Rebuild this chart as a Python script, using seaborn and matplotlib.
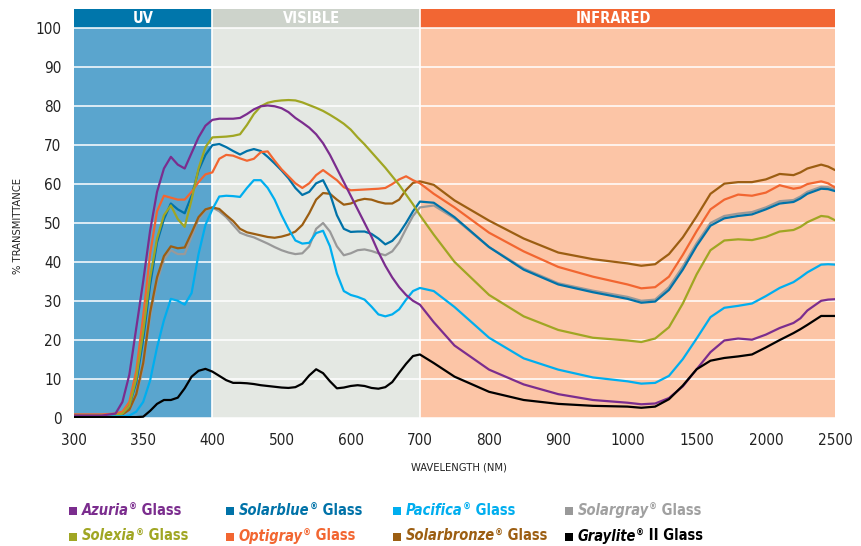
import numpy as np
import pandas as pd
import matplotlib
matplotlib.use("Agg")
import matplotlib.pyplot as plt
import seaborn as sns
from matplotlib import font_manager
from matplotlib.patches import Rectangle
from matplotlib.ticker import FixedLocator, FixedFormatter

# wavelengths (nm) sampled off the chart
wavelength = [300, 320, 330, 335, 340, 345, 350, 355, 360, 365, 370, 375, 380, 385, 390, 395, 400,
              410, 420, 430, 440, 450, 460, 470, 480, 490, 500, 510, 520, 530, 540, 550, 560, 570,
              580, 590, 600, 610, 620, 630, 640, 650, 660, 670, 680, 690, 700,
              720, 750, 800, 850, 900, 950, 1000, 1100, 1200, 1300, 1400, 1500, 1600, 1700, 1800,
              1900, 2000, 2100, 2200, 2250, 2300, 2400, 2450, 2500]

azuria = [0.5, 0.5, 1, 4, 11, 23, 35, 48, 58, 64, 67, 65, 64, 68, 72, 75, 76.5,
          76.8, 76.8, 76.8, 77, 78, 79.2, 80, 80.2, 80, 79.5, 78.5, 77, 75.8, 74.5, 72.8, 70.5, 67.5,
          64, 60.5, 57, 53.5, 50, 46.5, 42.5, 39, 36, 33.5, 31.5, 30, 29,
          24.5, 18.5, 12.3, 8.5, 6, 4.5, 3.8, 3.4, 3.6, 5, 8, 12.4, 16.8, 19.8, 20.3,
          20, 21.3, 23, 24.3, 25.5, 27.5, 30, 30.3, 30.4]
solarblue = [0.5, 0.5, 0.7, 1, 3, 9, 20, 34, 45, 51, 55, 53.5, 52.5, 57, 63.5, 67.5, 70,
             70.3, 69.5, 68.5, 67.6, 68.5, 69, 68.5, 67, 65.3, 63.5, 61.5, 59, 57.2, 58, 60.2, 61, 57.5,
             52, 48.5, 47.7, 47.8, 47.8, 47.2, 46, 44.5, 45.4, 47.3, 50, 53, 55.5,
             55.2, 51.5, 43.8, 38, 34.2, 32.2, 30.5, 29.5, 29.8, 32.8, 38, 44.1, 49.3, 51.2, 51.8,
             52.2, 53.5, 55, 55.4, 56.3, 57.5, 58.8, 58.7, 58.2]
pacifica = [0.3, 0.3, 0.3, 0.3, 0.5, 1.5, 4, 9.5, 18, 25, 30.5, 30, 29, 32, 42, 49.5, 53.5,
            56.8, 57, 56.9, 56.7, 59, 61, 61, 59, 56, 52, 48.5, 45.5, 44.7, 44.9, 47.4, 48, 44,
            37, 32.5, 31.5, 31, 30.3, 28.5, 26.5, 26, 26.5, 27.8, 30.3, 32.5, 33.3,
            32.5, 28.4, 20.5, 15.2, 12.3, 10.3, 9.3, 8.7, 8.9, 10.7, 15, 20.3, 25.8, 28.2, 28.7,
            29.3, 31.2, 33.3, 34.8, 36, 37.3, 39.3, 39.4, 39.3]
solargray = [0.5, 0.5, 0.5, 0.8, 2, 5.5, 13, 26, 35, 40.5, 43, 42, 42, 46.5, 51, 53.3, 54,
             53, 51.5, 49.5, 47.5, 46.8, 46.3, 45.5, 44.7, 43.8, 43, 42.4, 42, 42.2, 44, 48.5, 50, 47.8,
             44, 41.7, 42.2, 43, 43.2, 42.8, 42.2, 41.7, 42.7, 45, 48.5, 51.8, 54,
             54.5, 51.2, 43.8, 38.3, 34.5, 32.6, 31, 30, 30.3, 33.5, 38.8, 44.8, 50, 51.8, 52.4,
             52.8, 54, 55.6, 55.9, 56.8, 58, 59.3, 59.2, 58.6]
solexia = [0.5, 0.5, 0.6, 1, 3, 10, 22, 36, 46, 52, 54.5, 51, 49, 56, 64, 69.5, 72,
           72.1, 72.2, 72.4, 72.8, 75.2, 78, 80, 80.9, 81.3, 81.5, 81.6, 81.5, 81, 80.3, 79.6, 78.8, 77.8,
           76.7, 75.5, 74, 72, 70.2, 68.2, 66.2, 64.2, 62, 59.8, 57.3, 54.8, 52,
           47, 40, 31.5, 26, 22.5, 20.5, 19.8, 19.4, 20.3, 23.2, 29.3, 36.8, 43, 45.5, 45.8,
           45.6, 46.4, 47.8, 48.2, 49, 50.2, 51.8, 51.6, 50.7]
optigray = [0.8, 0.8, 1, 1.5, 4, 12, 26, 42, 53, 57, 56.5, 56, 56, 58, 60.5, 62.5, 63,
            66.5, 67.5, 67.3, 66.6, 66, 66.5, 68.2, 68.4, 66, 63.8, 62, 60.2, 59, 60.2, 62.3, 63.6, 62.3,
            61, 59.2, 58.4, 58.5, 58.6, 58.7, 58.8, 59, 60, 61.2, 62, 61, 60.2,
            57.5, 54, 47.5, 42.7, 38.7, 36.2, 34.2, 33.2, 33.5, 36.2, 41.8, 47.9, 53.5, 56, 57.3,
            57, 57.8, 59.7, 58.8, 59.1, 60, 60.7, 60.2, 59.1]
solarbronze = [0.5, 0.5, 0.5, 0.8, 2, 6, 14, 27, 36, 41.5, 44, 43.5, 43.7, 47.5, 51.5, 53.5, 54,
               53.6, 52, 50.5, 48.5, 47.6, 47.2, 46.8, 46.4, 46.2, 46.5, 47, 47.8, 49.5, 52.5, 56, 57.7, 57.5,
               56, 54.7, 55, 55.8, 56.2, 56, 55.4, 55, 55, 56, 58.5, 60.3, 60.7,
               59.8, 55.8, 50.6, 46, 42.4, 40.7, 39.6, 39, 39.4, 42, 46.3, 51.7, 57.5, 60.1, 60.5,
               60.5, 61.2, 62.6, 62.3, 63, 64, 65, 64.5, 63.6]
graylite = [0.1, 0.1, 0.1, 0.1, 0.1, 0.1, 0.2, 1.7, 3.5, 4.5, 4.5, 5.1, 7.5, 10.5, 12, 12.5, 11.8,
            10.7, 9.6, 8.9, 8.9, 8.8, 8.6, 8.3, 8.1, 7.9, 7.7, 7.6, 7.8, 8.7, 10.8, 12.4, 11.4, 9.3,
            7.5, 7.7, 8.1, 8.3, 8.1, 7.6, 7.4, 7.8, 9.1, 11.5, 13.8, 15.8, 16.2,
            14, 10.5, 6.6, 4.5, 3.5, 3, 2.8, 2.5, 2.8, 4.7, 8.2, 12.4, 14.6, 15.3, 15.7,
            16.2, 18, 19.9, 21.7, 22.7, 23.8, 26.1, 26.1, 26.1]

series = {"Azuria": azuria, "Solarblue": solarblue, "Pacifica": pacifica, "Solargray": solargray,
          "Solexia": solexia, "Optigray": optigray, "Solarbronze": solarbronze, "Graylite": graylite}
colors = {"Azuria": "#7b2d8e", "Solarblue": "#0072a8", "Pacifica": "#00aeef", "Solargray": "#999999",
          "Solexia": "#a0a623", "Optigray": "#f26631", "Solarbronze": "#9c5e12", "Graylite": "#000000"}
text_colors = dict(colors, Solargray="#a0a0a0")
draw_order = ["Solargray", "Solarbronze", "Solarblue", "Optigray", "Solexia", "Pacifica", "Azuria", "Graylite"]

df = pd.DataFrame({"wavelength": wavelength, **series})
long_df = df.melt(id_vars="wavelength", var_name="glass", value_name="transmittance")

tick_nm = [300, 350, 400, 500, 600, 700, 800, 900, 1000, 1500, 2000, 2500]
bands = [("UV", 300, 400, "#0076ab", "#5aa5ce", 350),
         ("VISIBLE", 400, 700, "#cdd3cb", "#e4e8e3", 544),
         ("INFRARED", 700, 2500, "#f26633", "#fcc5a6", 980)]

sns.set_style("white")
# the original uses a condensed sans; pick a narrow face if one is installed
names = {f.name for f in font_manager.fontManager.ttflist}
narrow = [n for n in ["Liberation Sans Narrow", "DejaVu Sans"] if n in names]
plt.rcParams['font.family'] = narrow + ['DejaVu Sans']
plt.rcParams['font.stretch'] = 'condensed'

# x axis is piecewise linear: 50 nm, 100 nm and 500 nm per tick step
knots_nm = [300, 400, 1000, 2500]
knots_pos = [0, 2, 8, 11]


def fwd(x):
    return np.interp(x, knots_nm, knots_pos)


def inv(p):
    return np.interp(p, knots_pos, knots_nm)


fig = plt.figure(figsize=(8.62, 5.46), dpi=100)
W, H = 862, 546
ax = fig.add_axes([74 / W, 1 - 417.5 / H, 761 / W, 408.5 / H])

sns.lineplot(data=long_df, x="wavelength", y="transmittance", hue="glass", hue_order=draw_order,
             palette=colors, linewidth=1.6, legend=False, estimator=None, sort=False, ax=ax, zorder=3)

ax.set_xscale("function", functions=(fwd, inv))
ax.set_xlim(300, 2500)
ax.set_ylim(0, 105)

for name, lo, hi, dark, light, lab_x in bands:
    ax.axvspan(lo, hi, ymin=0, ymax=100 / 105, color=light, lw=0, zorder=0)
    ax.axvspan(lo, hi, ymin=100 / 105, ymax=1, color=dark, lw=0, zorder=0)
    ax.text(lab_x, 102.6, name, color="white", fontsize=10.5, fontweight="bold",
            ha="center", va="center", zorder=4)

for v in range(0, 101, 10):
    ax.axhline(v, color="white", lw=1.1, zorder=1)
for v in [400, 700]:
    ax.axvline(v, color="white", lw=1.2, zorder=1)

ax.xaxis.set_major_locator(FixedLocator(tick_nm))
ax.xaxis.set_major_formatter(FixedFormatter([str(t) for t in tick_nm]))
ax.xaxis.set_minor_locator(FixedLocator(inv(np.round(np.arange(0, 111) / 10, 6))))
ax.set_yticks(range(0, 101, 10))
ax.tick_params(axis="x", which="major", direction="out", length=6, width=1.2, color="#555555",
               labelsize=11, pad=5, labelcolor="#222222")
ax.tick_params(axis="x", which="minor", direction="out", length=5.5, width=0.8, color="#cfcfcf")
ax.tick_params(axis="y", length=0, labelsize=11, pad=9, labelcolor="#222222")
ax.set_xlabel("")
ax.set_ylabel("")
for s in ax.spines.values():
    s.set_visible(False)

fig.text(459 / W, 1 - 467 / H, "WAVELENGTH (NM)", fontsize=8, ha="center", va="center", color="#222222")
fig.text(18 / W, 1 - 226 / H, "% TRANSMITTANCE", fontsize=8, rotation=90, ha="center", va="center",
         color="#222222")

# legend: square swatch + italic name, superscript (R), plain " Glass"
legend_rows = [["Azuria", "Solarblue", "Pacifica", "Solargray"],
               ["Solexia", "Optigray", "Solarbronze", "Graylite"]]
col_x = [69, 226, 393, 565]
row_base = [515, 540.5]
renderer = fig.canvas.get_renderer()

for r, row in enumerate(legend_rows):
    for c, name in enumerate(row):
        x0, yb = col_x[c], row_base[r]
        col = text_colors[name]
        fig.add_artist(Rectangle((x0 / W, 1 - yb / H), 8 / W, 8 / H, transform=fig.transFigure,
                                 color=colors[name], lw=0))
        x = x0 + 12.5
        t = fig.text(x / W, 1 - yb / H, name, color=col, fontsize=10.5, fontweight="bold",
                     fontstyle="italic", va="baseline")
        x += t.get_window_extent(renderer).width + 0.5
        t = fig.text(x / W, 1 - (yb - 5) / H, "\u00ae", color=col, fontsize=6.5, fontweight="bold",
                     va="baseline")
        x += t.get_window_extent(renderer).width
        tail = " II Glass" if name == "Graylite" else " Glass"
        fig.text(x / W, 1 - yb / H, tail, color=col, fontsize=10.5, fontweight="bold", va="baseline")

fig.savefig("out.png", dpi=100)
